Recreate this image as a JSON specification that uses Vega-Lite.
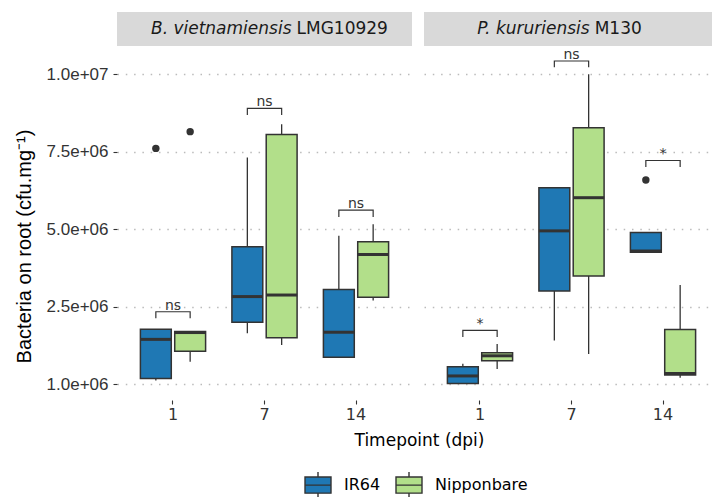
{
  "$schema": "https://vega.github.io/schema/vega-lite/v6.json",
  "padding": {"left": 14, "top": 12, "right": 0, "bottom": 0},
  "background": "white",
  "datasets": {
    "boxes": [
      {"strain": "B. vietnamiensis LMG10929", "timepoint": 1, "cultivar": "IR64", "lower": 0.11, "q1": 0.18, "median": 1.44, "q3": 1.77, "upper": 1.77},
      {"strain": "B. vietnamiensis LMG10929", "timepoint": 1, "cultivar": "Nipponbare", "lower": 0.72, "q1": 1.06, "median": 1.66, "q3": 1.69, "upper": 1.69},
      {"strain": "B. vietnamiensis LMG10929", "timepoint": 7, "cultivar": "IR64", "lower": 1.64, "q1": 1.99, "median": 2.82, "q3": 4.43, "upper": 7.31},
      {"strain": "B. vietnamiensis LMG10929", "timepoint": 7, "cultivar": "Nipponbare", "lower": 1.26, "q1": 1.49, "median": 2.87, "q3": 8.05, "upper": 8.38},
      {"strain": "B. vietnamiensis LMG10929", "timepoint": 14, "cultivar": "IR64", "lower": 0.86, "q1": 0.86, "median": 1.67, "q3": 3.05, "upper": 4.78},
      {"strain": "B. vietnamiensis LMG10929", "timepoint": 14, "cultivar": "Nipponbare", "lower": 2.69, "q1": 2.80, "median": 4.18, "q3": 4.59, "upper": 5.15},
      {"strain": "P. kururiensis M130", "timepoint": 1, "cultivar": "IR64", "lower": 0.02, "q1": 0.02, "median": 0.26, "q3": 0.56, "upper": 0.65},
      {"strain": "P. kururiensis M130", "timepoint": 1, "cultivar": "Nipponbare", "lower": 0.48, "q1": 0.75, "median": 0.91, "q3": 1.01, "upper": 1.29},
      {"strain": "P. kururiensis M130", "timepoint": 7, "cultivar": "IR64", "lower": 1.40, "q1": 3.00, "median": 4.94, "q3": 6.33, "upper": 6.33},
      {"strain": "P. kururiensis M130", "timepoint": 7, "cultivar": "Nipponbare", "lower": 0.97, "q1": 3.48, "median": 6.01, "q3": 8.27, "upper": 9.99},
      {"strain": "P. kururiensis M130", "timepoint": 14, "cultivar": "IR64", "lower": 4.25, "q1": 4.25, "median": 4.29, "q3": 4.89, "upper": 4.89},
      {"strain": "P. kururiensis M130", "timepoint": 14, "cultivar": "Nipponbare", "lower": 0.20, "q1": 0.29, "median": 0.34, "q3": 1.76, "upper": 3.19}
    ],
    "outliers": [
      {"strain": "B. vietnamiensis LMG10929", "timepoint": 1, "cultivar": "IR64", "value": 7.60},
      {"strain": "B. vietnamiensis LMG10929", "timepoint": 1, "cultivar": "Nipponbare", "value": 8.14},
      {"strain": "P. kururiensis M130", "timepoint": 14, "cultivar": "IR64", "value": 6.58}
    ],
    "brackets": [
      {"strain": "B. vietnamiensis LMG10929", "timepoint": 1, "id": "B1", "cultivar": "IR64", "seq": 1, "y": 2.12, "label": "ns"},
      {"strain": "B. vietnamiensis LMG10929", "timepoint": 1, "id": "B1", "cultivar": "IR64", "seq": 2, "y": 2.33, "label": "ns"},
      {"strain": "B. vietnamiensis LMG10929", "timepoint": 1, "id": "B1", "cultivar": "Nipponbare", "seq": 3, "y": 2.33, "label": "ns"},
      {"strain": "B. vietnamiensis LMG10929", "timepoint": 1, "id": "B1", "cultivar": "Nipponbare", "seq": 4, "y": 2.12, "label": "ns"},
      {"strain": "B. vietnamiensis LMG10929", "timepoint": 7, "id": "B7", "cultivar": "IR64", "seq": 1, "y": 8.68, "label": "ns"},
      {"strain": "B. vietnamiensis LMG10929", "timepoint": 7, "id": "B7", "cultivar": "IR64", "seq": 2, "y": 8.89, "label": "ns"},
      {"strain": "B. vietnamiensis LMG10929", "timepoint": 7, "id": "B7", "cultivar": "Nipponbare", "seq": 3, "y": 8.89, "label": "ns"},
      {"strain": "B. vietnamiensis LMG10929", "timepoint": 7, "id": "B7", "cultivar": "Nipponbare", "seq": 4, "y": 8.68, "label": "ns"},
      {"strain": "B. vietnamiensis LMG10929", "timepoint": 14, "id": "B14", "cultivar": "IR64", "seq": 1, "y": 5.39, "label": "ns"},
      {"strain": "B. vietnamiensis LMG10929", "timepoint": 14, "id": "B14", "cultivar": "IR64", "seq": 2, "y": 5.61, "label": "ns"},
      {"strain": "B. vietnamiensis LMG10929", "timepoint": 14, "id": "B14", "cultivar": "Nipponbare", "seq": 3, "y": 5.61, "label": "ns"},
      {"strain": "B. vietnamiensis LMG10929", "timepoint": 14, "id": "B14", "cultivar": "Nipponbare", "seq": 4, "y": 5.39, "label": "ns"},
      {"strain": "P. kururiensis M130", "timepoint": 1, "id": "P1", "cultivar": "IR64", "seq": 1, "y": 1.52, "label": "*"},
      {"strain": "P. kururiensis M130", "timepoint": 1, "id": "P1", "cultivar": "IR64", "seq": 2, "y": 1.73, "label": "*"},
      {"strain": "P. kururiensis M130", "timepoint": 1, "id": "P1", "cultivar": "Nipponbare", "seq": 3, "y": 1.73, "label": "*"},
      {"strain": "P. kururiensis M130", "timepoint": 1, "id": "P1", "cultivar": "Nipponbare", "seq": 4, "y": 1.52, "label": "*"},
      {"strain": "P. kururiensis M130", "timepoint": 7, "id": "P7", "cultivar": "IR64", "seq": 1, "y": 10.22, "label": "ns"},
      {"strain": "P. kururiensis M130", "timepoint": 7, "id": "P7", "cultivar": "IR64", "seq": 2, "y": 10.42, "label": "ns"},
      {"strain": "P. kururiensis M130", "timepoint": 7, "id": "P7", "cultivar": "Nipponbare", "seq": 3, "y": 10.42, "label": "ns"},
      {"strain": "P. kururiensis M130", "timepoint": 7, "id": "P7", "cultivar": "Nipponbare", "seq": 4, "y": 10.22, "label": "ns"},
      {"strain": "P. kururiensis M130", "timepoint": 14, "id": "P14", "cultivar": "IR64", "seq": 1, "y": 7.00, "label": "*"},
      {"strain": "P. kururiensis M130", "timepoint": 14, "id": "P14", "cultivar": "IR64", "seq": 2, "y": 7.21, "label": "*"},
      {"strain": "P. kururiensis M130", "timepoint": 14, "id": "P14", "cultivar": "Nipponbare", "seq": 3, "y": 7.21, "label": "*"},
      {"strain": "P. kururiensis M130", "timepoint": 14, "id": "P14", "cultivar": "Nipponbare", "seq": 4, "y": 7.00, "label": "*"}
    ]
  },
  "vconcat": [
    {
      "hconcat": [
        {
          "width": 295,
          "height": 34,
          "view": {"fill": "#d9d9d9", "stroke": null},
          "data": {"values": [{"genus": "B. vietnamiensis", "isolate": "LMG10929"}]},
          "layer": [
            {
              "mark": {"type": "text", "align": "right", "baseline": "middle", "dx": -2.5, "fontStyle": "italic", "fontSize": 17, "font": "DejaVu Sans", "color": "#1a1a1a"},
              "encoding": {
                "x": {"datum": 0.6, "type": "quantitative", "scale": {"domain": [0, 1]}, "axis": null},
                "y": {"datum": 0.5, "type": "quantitative", "scale": {"domain": [0, 1]}, "axis": null},
                "text": {"field": "genus"}
              }
            },
            {
              "mark": {"type": "text", "align": "left", "baseline": "middle", "dx": 2.5, "fontSize": 17, "font": "DejaVu Sans", "color": "#1a1a1a"},
              "encoding": {
                "x": {"datum": 0.6, "type": "quantitative", "scale": {"domain": [0, 1]}, "axis": null},
                "y": {"datum": 0.5, "type": "quantitative", "scale": {"domain": [0, 1]}, "axis": null},
                "text": {"field": "isolate"}
              }
            }
          ]
        },
        {
          "width": 295,
          "height": 34,
          "view": {"fill": "#d9d9d9", "stroke": null},
          "data": {"values": [{"genus": "P. kururiensis", "isolate": "M130"}]},
          "layer": [
            {
              "mark": {"type": "text", "align": "right", "baseline": "middle", "dx": -2.5, "fontStyle": "italic", "fontSize": 17, "font": "DejaVu Sans", "color": "#1a1a1a"},
              "encoding": {
                "x": {"datum": 0.57, "type": "quantitative", "scale": {"domain": [0, 1]}, "axis": null},
                "y": {"datum": 0.5, "type": "quantitative", "scale": {"domain": [0, 1]}, "axis": null},
                "text": {"field": "genus"}
              }
            },
            {
              "mark": {"type": "text", "align": "left", "baseline": "middle", "dx": 2.5, "fontSize": 17, "font": "DejaVu Sans", "color": "#1a1a1a"},
              "encoding": {
                "x": {"datum": 0.57, "type": "quantitative", "scale": {"domain": [0, 1]}, "axis": null},
                "y": {"datum": 0.5, "type": "quantitative", "scale": {"domain": [0, 1]}, "axis": null},
                "text": {"field": "isolate"}
              }
            }
          ]
        }
      ],
      "spacing": 12
    },
    {
      "bounds": "flush",
      "spacing": 12,
      "hconcat": [
        {
          "width": 295,
          "height": 353,
          "encoding": {
            "x": {"field": "timepoint", "type": "ordinal", "scale": {"paddingInner": 0.25, "paddingOuter": 0.237, "round": false},
                  "axis": {"title": "Timepoint (dpi)", "titleX": 302}}
          },
          "layer": [
            {
              "data": {"name": "boxes"},
              "transform": [{"filter": "datum.strain == 'B. vietnamiensis LMG10929'"}],
              "mark": {"type": "rule", "color": "#333333", "strokeWidth": 1.3},
              "encoding": {
                "xOffset": {"field": "cultivar", "type": "nominal", "scale": {"paddingInner": 0.1, "paddingOuter": 0.05}},
                "y": {"field": "lower", "type": "quantitative", "scale": {"domain": [-0.516, 10.871], "nice": false, "zero": false},
                      "axis": {"values": [0, 2.5, 5, 7.5, 10], "title": "Bacteria on root (cfu.mg⁻¹)", "titleY": 199,
                               "labelExpr": "datum.value == 0 ? '1.0e+06' : replace(format(datum.value * 1000000, '.1e'), 'e+', 'e+0')"}},
                "y2": {"field": "upper"}
              }
            },
            {
              "data": {"name": "boxes"},
              "transform": [{"filter": "datum.strain == 'B. vietnamiensis LMG10929'"}],
              "mark": {"type": "bar", "stroke": "#333333", "strokeWidth": 1.5},
              "encoding": {
                "xOffset": {"field": "cultivar", "type": "nominal", "scale": {"paddingInner": 0.1, "paddingOuter": 0.05}},
                "y": {"field": "q1", "type": "quantitative"},
                "y2": {"field": "q3"},
                "fill": {"field": "cultivar", "type": "nominal", "scale": {"domain": ["IR64", "Nipponbare"], "range": ["#1f78b4", "#b2df8a"]},
                         "legend": {"title": null, "orient": "none", "legendX": 187, "legendY": 459, "direction": "horizontal",
                                    "symbolType": "M-1,-0.62H1V0.62H-1Z M-1,0H1 M0,-0.62V-1 M0,0.62V1"}}
              }
            },
            {
              "data": {"name": "boxes"},
              "transform": [{"filter": "datum.strain == 'B. vietnamiensis LMG10929'"}],
              "mark": {"type": "tick", "color": "#333333", "thickness": 3, "size": 31, "opacity": 1},
              "encoding": {
                "xOffset": {"field": "cultivar", "type": "nominal", "scale": {"paddingInner": 0.1, "paddingOuter": 0.05}},
                "y": {"field": "median", "type": "quantitative"}
              }
            },
            {
              "data": {"name": "outliers"},
              "transform": [{"filter": "datum.strain == 'B. vietnamiensis LMG10929'"}],
              "mark": {"type": "point", "filled": true, "color": "#333333", "size": 55, "opacity": 1},
              "encoding": {
                "xOffset": {"field": "cultivar", "type": "nominal", "scale": {"paddingInner": 0.1, "paddingOuter": 0.05}},
                "y": {"field": "value", "type": "quantitative"}
              }
            },
            {
              "data": {"name": "brackets"},
              "transform": [{"filter": "datum.strain == 'B. vietnamiensis LMG10929'"}],
              "mark": {"type": "line", "color": "#333333", "strokeWidth": 1.2},
              "encoding": {
                "xOffset": {"field": "cultivar", "type": "nominal", "scale": {"paddingInner": 0.1, "paddingOuter": 0.05}},
                "y": {"field": "y", "type": "quantitative"},
                "detail": {"field": "id"},
                "order": {"field": "seq"}
              }
            },
            {
              "data": {"name": "brackets"},
              "transform": [{"filter": "datum.strain == 'B. vietnamiensis LMG10929' && datum.seq == 2"}],
              "mark": {"type": "text", "baseline": "alphabetic", "dy": -2, "fontSize": 14, "font": "DejaVu Sans", "color": "#333333"},
              "encoding": {
                "y": {"field": "y", "type": "quantitative"},
                "text": {"field": "label"}
              }
            }
          ]
        },
        {
          "width": 295,
          "height": 353,
          "encoding": {
            "x": {"field": "timepoint", "type": "ordinal", "scale": {"paddingInner": 0.25, "paddingOuter": 0.237, "round": false},
                  "axis": {"title": null}}
          },
          "layer": [
            {
              "data": {"name": "boxes"},
              "transform": [{"filter": "datum.strain == 'P. kururiensis M130'"}],
              "mark": {"type": "rule", "color": "#333333", "strokeWidth": 1.3},
              "encoding": {
                "xOffset": {"field": "cultivar", "type": "nominal", "scale": {"paddingInner": 0.1, "paddingOuter": 0.05}},
                "y": {"field": "lower", "type": "quantitative", "scale": {"domain": [-0.516, 10.871], "nice": false, "zero": false},
                      "axis": {"values": [0, 2.5, 5, 7.5, 10], "title": null, "labels": false, "ticks": false}},
                "y2": {"field": "upper"}
              }
            },
            {
              "data": {"name": "boxes"},
              "transform": [{"filter": "datum.strain == 'P. kururiensis M130'"}],
              "mark": {"type": "bar", "stroke": "#333333", "strokeWidth": 1.5},
              "encoding": {
                "xOffset": {"field": "cultivar", "type": "nominal", "scale": {"paddingInner": 0.1, "paddingOuter": 0.05}},
                "y": {"field": "q1", "type": "quantitative"},
                "y2": {"field": "q3"},
                "fill": {"field": "cultivar", "type": "nominal"}
              }
            },
            {
              "data": {"name": "boxes"},
              "transform": [{"filter": "datum.strain == 'P. kururiensis M130'"}],
              "mark": {"type": "tick", "color": "#333333", "thickness": 3, "size": 31, "opacity": 1},
              "encoding": {
                "xOffset": {"field": "cultivar", "type": "nominal", "scale": {"paddingInner": 0.1, "paddingOuter": 0.05}},
                "y": {"field": "median", "type": "quantitative"}
              }
            },
            {
              "data": {"name": "outliers"},
              "transform": [{"filter": "datum.strain == 'P. kururiensis M130'"}],
              "mark": {"type": "point", "filled": true, "color": "#333333", "size": 55, "opacity": 1},
              "encoding": {
                "xOffset": {"field": "cultivar", "type": "nominal", "scale": {"paddingInner": 0.1, "paddingOuter": 0.05}},
                "y": {"field": "value", "type": "quantitative"}
              }
            },
            {
              "data": {"name": "brackets"},
              "transform": [{"filter": "datum.strain == 'P. kururiensis M130'"}],
              "mark": {"type": "line", "color": "#333333", "strokeWidth": 1.2},
              "encoding": {
                "xOffset": {"field": "cultivar", "type": "nominal", "scale": {"paddingInner": 0.1, "paddingOuter": 0.05}},
                "y": {"field": "y", "type": "quantitative"},
                "detail": {"field": "id"},
                "order": {"field": "seq"}
              }
            },
            {
              "data": {"name": "brackets"},
              "transform": [{"filter": "datum.strain == 'P. kururiensis M130' && datum.seq == 2"}],
              "mark": {"type": "text", "baseline": "alphabetic", "dy": -2, "fontSize": 14, "font": "DejaVu Sans", "color": "#333333"},
              "encoding": {
                "y": {"field": "y", "type": "quantitative"},
                "text": {"field": "label"}
              }
            }
          ]
        }
      ]
    }
  ],
  "spacing": 1,
  "config": {
    "view": {"stroke": null},
    "font": "DejaVu Sans",
    "axis": {
      "domain": false, "ticks": true, "tickColor": "#333333", "tickSize": 4, "tickWidth": 1.1,
      "labelColor": "#333333", "labelFont": "DejaVu Sans", "labelFontSize": 16,
      "titleFont": "DejaVu Sans", "titleFontSize": 17, "titleColor": "#000000", "titleFontWeight": "normal", "grid": false
    },
    "axisX": {"labelPadding": 2, "titlePadding": 10, "labelAngle": 0},
    "axisY": {
      "grid": true, "gridColor": "#bbbbbb", "gridDash": [1.5, 6.8], "gridWidth": 1.3,
      "labelFont": "Liberation Sans", "labelFontSize": 17, "titleFont": "Liberation Sans", "titleFontSize": 20,
      "labelPadding": 5, "titlePadding": 12
    },
    "legend": {
      "labelFont": "DejaVu Sans", "labelFontSize": 16, "labelColor": "#000000",
      "symbolSize": 676, "symbolStrokeColor": "#333333", "symbolStrokeWidth": 1.4,
      "labelOffset": 12, "columnPadding": 12, "padding": 0
    }
  }
}
